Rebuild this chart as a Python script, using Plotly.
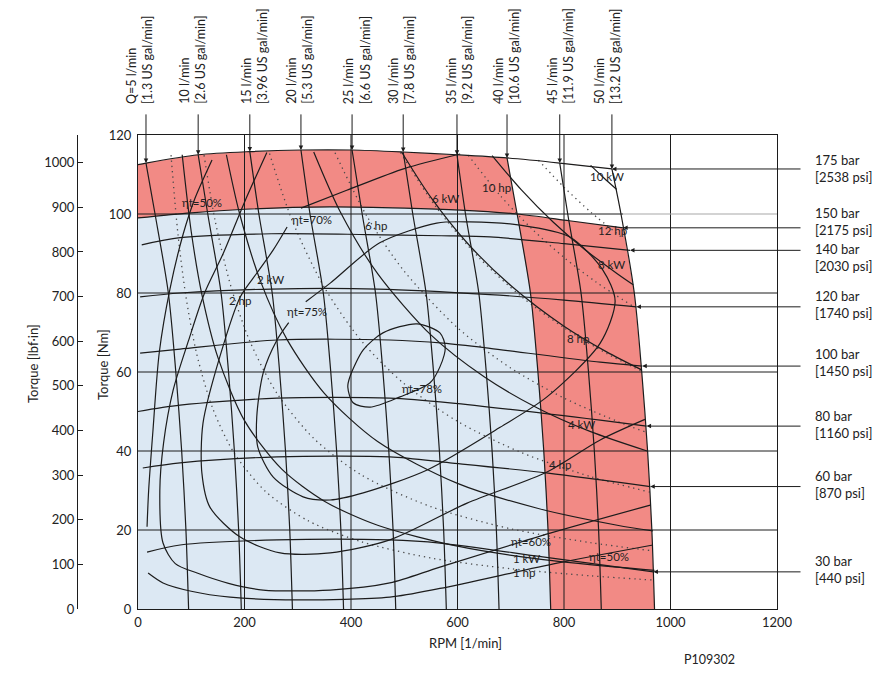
import plotly.graph_objects as go

# ------------------------------------------------------------------
# DATA  (speed in RPM [1/min], torque in Nm)
# ------------------------------------------------------------------
RPM_TICKS = [0, 200, 400, 600, 800, 1000, 1200]
NM_TICKS = [0, 20, 40, 60, 80, 100, 120]
LBF_TICKS = [0, 100, 200, 300, 400, 500, 600, 700, 800, 900, 1000]
NM_TO_LBFIN = 8.8507

# flow lines: speed at the torque levels below, plus the top end point
FLOW_TEXT = ["Q=5 l/min<br>[1.3 US gal/min]", "10 l/min<br>[2.6 US gal/min]",
             "15 l/min<br>[3.96 US gal/min]", "20 l/min<br>[5.3 US gal/min]",
             "25 l/min<br>[6.6 US gal/min]", "30 l/min<br>[7.8 US gal/min]",
             "35 l/min<br>[9.2 US gal/min]", "40 l/min<br>[10.6 US gal/min]",
             "45 l/min<br>[11.9 US gal/min]", "50 l/min<br>[13.2 US gal/min]"]
FLOW_TORQUE = [0, 20, 40, 60, 80, 100]
FLOW_RPM = [[95, 90, 82, 71, 57, 32],
            [194, 189, 181, 170, 156, 131],
            [290, 285, 277, 266, 252, 227],
            [386, 381, 373, 362, 348, 323],
            [484, 479, 471, 460, 446, 421],
            [579, 574, 566, 555, 541, 516],
            [678, 673, 665, 654, 640, 615],
            [775, 770, 762, 751, 737, 712],
            [870, 865, 857, 846, 832, 807],
            [970, 965, 957, 946, 932, 907]]
FLOW_TOP_RPM = [15, 113, 210, 306, 402, 498, 599, 693, 792, 890]
FLOW_TOP_NM = [112.9, 115.0, 115.8, 116.2, 116.2, 115.7, 115.0, 114.2, 112.9, 111.4]
FLOW_LABEL_RPM = [2, 101, 218, 302, 410, 494, 603, 691, 792, 881]

# pressure lines
PRESS_TEXT = ["175 bar<br>[2538 psi]", "150 bar<br>[2175 psi]", "140 bar<br>[2030 psi]",
              "120 bar<br>[1740 psi]", "100 bar<br>[1450 psi]", "80 bar<br>[1160 psi]",
              "60 bar<br>[870 psi]", "30 bar<br>[440 psi]"]
PRESS_RPM = [[0, 15, 113, 210, 306, 402, 498, 599, 693, 792, 890],
             [0, 100, 200, 360, 500, 605, 712, 810, 911],
             [7, 79, 250, 430, 570, 661, 800, 924],
             [4, 79, 250, 450, 661, 800, 936],
             [4, 79, 261, 473, 573, 661, 868, 947],
             [0, 79, 261, 473, 586, 868, 955],
             [9, 79, 261, 473, 586, 770, 962],
             [17, 79, 261, 473, 567, 760, 968]]
PRESS_NM = [[112.5, 112.9, 115.0, 115.8, 116.2, 116.2, 115.7, 115.0, 114.2, 112.9, 111.4],
            [99.0, 100.3, 101.2, 101.8, 101.5, 101.0, 100.0, 98.3, 96.5],
            [92.2, 94.0, 95.0, 94.8, 94.5, 94.2, 92.5, 90.8],
            [79.0, 80.0, 81.0, 81.0, 79.6, 78.2, 76.5],
            [64.8, 65.8, 68.1, 68.1, 67.3, 66.0, 62.5, 61.5],
            [50.0, 51.6, 53.4, 53.4, 52.2, 47.8, 46.3],
            [35.7, 37.0, 38.5, 38.5, 37.0, 34.4, 31.0],
            [14.4, 16.2, 17.5, 17.5, 16.7, 13.2, 9.4]]
PRESS_LABEL_NM = [111.6, 98.2, 88.9, 77.1, 62.3, 46.7, 31.4, 9.9]

# power lines (kW solid, hp dotted)
KW_RPM = [[83, 100, 120, 150, 200, 270, 350, 450, 600, 750, 900, 970],
          [166, 190, 230, 280, 350, 450, 600, 750, 900, 967],
          [330, 380, 450, 550, 650, 750, 850, 956],
          [495, 550, 620, 700, 800, 880, 945],
          [665, 720, 780, 840, 900, 930],
          [850, 875, 899]]
KW_NM = [[115, 95.5, 79.6, 63.7, 47.7, 35.4, 27.3, 21.2, 15.9, 12.7, 10.6, 9.8],
         [115, 100.5, 83.0, 68.2, 54.6, 42.4, 31.8, 25.5, 21.2, 19.8],
         [115.7, 100.5, 84.9, 69.4, 58.8, 50.9, 44.9, 40.0],
         [115.7, 104.2, 92.4, 81.9, 71.6, 65.1, 60.6],
         [114.8, 106.1, 97.9, 90.9, 84.9, 82.1],
         [112.3, 109.1, 106.2]]
HP_RPM = [[62, 75, 90, 110, 140, 180, 240, 320, 420, 550, 700, 850, 970],
          [124, 145, 175, 210, 260, 330, 420, 550, 700, 850, 968],
          [247, 290, 350, 420, 500, 600, 720, 850, 961],
          [370, 430, 500, 600, 700, 800, 900, 953],
          [493, 560, 640, 720, 800, 880, 945],
          [620, 680, 740, 800, 860, 930],
          [752, 800, 850, 912]]
HP_NM = [[114.9, 94.9, 79.1, 64.7, 50.9, 39.6, 29.7, 22.3, 17.0, 12.9, 10.2, 8.4, 7.3],
         [114.9, 98.2, 81.4, 67.8, 54.8, 43.2, 33.9, 25.9, 20.3, 16.8, 14.7],
         [115.3, 98.2, 81.4, 67.8, 57.0, 47.5, 39.6, 33.5, 29.6],
         [115.5, 99.4, 85.5, 71.2, 61.0, 53.4, 47.5, 44.8],
         [115.6, 101.7, 89.0, 79.1, 71.2, 64.7, 60.3],
         [114.9, 104.7, 96.2, 89.0, 82.8, 76.6],
         [113.6, 106.8, 100.5, 93.7]]

# total efficiency contours
EFF_RPM = [[394, 398, 423, 460, 524, 567, 577, 567, 548, 492, 436, 404, 394],
           [315, 361, 454, 561, 623, 717, 811, 873, 896, 868, 768, 680, 543, 423, 361,
            310, 254, 225, 223, 235, 261, 283],
           [605, 500, 392, 306],
           [280, 254, 223, 192, 154, 122, 120, 135, 192, 267, 361, 473, 618, 768, 868, 952],
           [242, 200, 160, 125, 95, 66, 48, 41, 47, 70, 111, 170, 235, 361, 473, 567, 774, 962],
           [139, 107, 85, 60, 40, 28, 20, 17],
           [19, 47, 100, 173, 299, 473, 567, 787, 967]]
EFF_NM = [[56.2, 58.8, 65.6, 69.9, 72.2, 69.9, 66.3, 61.3, 57.2, 53.7, 51.1, 52.2, 56.2],
          [77.8, 82.5, 92.7, 97.7, 98.0, 97.2, 94.2, 85.8, 78.0, 67.3, 53.7, 46.0, 35.2, 29.4,
           27.6, 28.4, 33.4, 41.0, 48.6, 59.7, 68.1, 72.5],
          [115.2, 111.5, 106.0, 101.5],
          [96.7, 90.9, 85.0, 79.0, 64.0, 47.0, 34.4, 25.8, 18.2, 14.2, 14.2, 17.5, 26.8, 34.7, 42.8, 48.0],
          [115.6, 103.0, 90.0, 80.0, 68.0, 55.4, 42.0, 30.0, 16.7, 11.5, 9.1, 6.5, 4.8, 4.8, 6.6,
           10.6, 19.2, 26.3],
          [113.7, 104.0, 95.0, 81.0, 65.0, 45.0, 30.0, 20.8],
          [9.1, 6.6, 4.5, 3.0, 2.3, 3.0, 5.2, 11.6, 16.2]]

# in-chart labels (text, rpm, Nm)
CURVE_LABELS = [("ηt=50%", 120, 103.0), ("ηt=70%", 327, 98.5), ("6 hp", 447, 97.2),
                ("6 kW", 578, 104.0), ("2 kW", 248, 83.3), ("2 hp", 191, 78.2),
                ("ηt=75%", 317, 75.2), ("ηt=78%", 533, 55.7), ("10 hp", 674, 106.8),
                ("10 kW", 880, 109.6), ("12 hp", 892, 95.7), ("8 kW", 890, 87.3),
                ("8 hp", 826, 68.4), ("4 kW", 832, 46.6), ("4 hp", 793, 36.5),
                ("ηt=60%", 738, 17.1), ("1 kW", 729, 12.8), ("1 hp", 724, 9.2),
                ("ηt=50%", 885, 13.4)]

# ------------------------------------------------------------------
W, H = 879, 679
L, R, T, B = 138, 777, 135, 609
XD = [L / W, R / W]
YD = [1 - B / H, 1 - T / H]
INK = "#1c1c1c"
RED = "#f28a85"
BLUE = "#dce8f3"
FONT = "Lato, 'Open Sans', sans-serif"
XMAX, YMAX = RPM_TICKS[-1], NM_TICKS[-1]


def xpaper(rpm):
    return XD[0] + rpm / XMAX * (XD[1] - XD[0])


def ypaper(nm):
    return YD[0] + nm / YMAX * (YD[1] - YD[0])


fig = go.Figure()


def line(x, y, width=1.2, dash=None, color=INK, spline=True):
    fig.add_trace(go.Scatter(
        x=x, y=y, mode="lines", hoverinfo="skip", showlegend=False,
        line=dict(color=color, width=width, dash=dash,
                  shape="spline" if spline else "linear", smoothing=0.8)))


def fill(x, y, color):
    fig.add_trace(go.Scatter(
        x=x, y=y, mode="lines", fill="toself", fillcolor=color, hoverinfo="skip",
        showlegend=False, line=dict(width=0, color=color)))


q_x = [r + [FLOW_TOP_RPM[i]] for i, r in enumerate(FLOW_RPM)]
q_y = [FLOW_TORQUE + [FLOW_TOP_NM[i]] for i in range(len(FLOW_RPM))]
q40x, q40y = q_x[7], q_y[7]
q50x, q50y = q_x[9], q_y[9]
p175x, p175y = PRESS_RPM[0], PRESS_NM[0]
p150x, p150y = PRESS_RPM[1], PRESS_NM[1]
corner_rpm = q40x[5]

# red envelope
fill(p175x + q50x[::-1] + [0], p175y + q50y[::-1] + [0], RED)
# white notch above the 150 bar line between 40 and 50 l/min
wx = [q40x[6], q40x[5]] + [x for x in p150x if x > corner_rpm] \
    + [x for x, y in zip(q50x, q50y) if y > p150y[-1]] \
    + [x for x in p175x[::-1] if q40x[6] < x < q50x[-1]]
wy = [q40y[6], q40y[5]] + [y for x, y in zip(p150x, p150y) if x > corner_rpm] \
    + [y for y in q50y if y > p150y[-1]] \
    + [y for x, y in zip(p175x[::-1], p175y[::-1]) if q40x[6] < x < q50x[-1]]
fill(wx, wy, "white")
# blue continuous-duty region
bx = q40x[:6] + [x for x in p150x[::-1] if x < corner_rpm] + [0]
by = q40y[:6] + [y for x, y in zip(p150x[::-1], p150y[::-1]) if x < corner_rpm] + [0]
fill(bx, by, BLUE)

# grid lines (drawn over the fills)
for r in RPM_TICKS[1:-1]:
    line([r, r], [NM_TICKS[0], NM_TICKS[-1]], width=1, spline=False)
for t in NM_TICKS[1:-1]:
    if t == 100:
        line([0, p150x[-1]], [t, t], width=1, spline=False)
        line([p150x[-1], XMAX], [t, t], width=1.2, color="#a8a8a8", spline=False)
    else:
        line([0, XMAX], [t, t], width=1, spline=False)

# curves
for x, y in zip(HP_RPM, HP_NM):
    line(x, y, width=1.3, dash="1.3px,4px", color="#4a4a4a")
for x, y in zip(KW_RPM, KW_NM):
    line(x, y, width=1.2)
for x, y in zip(EFF_RPM, EFF_NM):
    line(x, y, width=1.2)
for x, y in zip(q_x, q_y):
    line(x, y, width=1.2)
for x, y in zip(PRESS_RPM, PRESS_NM):
    line(x, y, width=1.2)

# secondary (lbf·in) axis carrier
fig.add_trace(go.Scatter(x=[0], y=[0], yaxis="y2", mode="markers",
                         marker=dict(opacity=0), hoverinfo="skip", showlegend=False))

ann = []
tf = dict(family=FONT, size=11.5, color="#222")
for txt, xr, yn in CURVE_LABELS:
    ann.append(dict(x=xr, y=yn, xref="x", yref="y", text=txt, showarrow=False,
                    font=tf, xanchor="center", yanchor="middle"))

# flow arrows + labels
for i, txt in enumerate(FLOW_TEXT):
    ann.append(dict(x=FLOW_TOP_RPM[i], y=FLOW_TOP_NM[i], ax=FLOW_TOP_RPM[i], ay=125.6,
                    xref="x", yref="y", axref="x", ayref="y", text="", showarrow=True,
                    arrowhead=2, arrowsize=0.9, arrowwidth=1, arrowcolor=INK, standoff=0))
    ann.append(dict(x=xpaper(FLOW_LABEL_RPM[i]), y=1 - 106 / H, xref="paper", yref="paper",
                    text=txt, textangle=-90, showarrow=False, xanchor="center",
                    yanchor="bottom", align="left",
                    font=dict(family=FONT, size=12.5, color="#222")))

# pressure arrows + labels
for i, txt in enumerate(PRESS_TEXT):
    xe, ye = PRESS_RPM[i][-1], PRESS_NM[i][-1]
    ann.append(dict(x=xe, y=ye, ax=1247, ay=ye, xref="x", yref="y", axref="x", ayref="y",
                    text="", showarrow=True, arrowhead=2, arrowsize=0.9, arrowwidth=1,
                    arrowcolor=INK, standoff=0))
    ann.append(dict(x=813 / W, y=ypaper(PRESS_LABEL_NM[i]), xref="paper", yref="paper",
                    text=txt, showarrow=False, xanchor="left", yanchor="middle",
                    align="left", font=dict(family=FONT, size=13, color="#222")))

# axis titles and figure code
tfont = dict(family=FONT, size=13, color="#222")
ann.append(dict(x=33 / W, y=1 - 364 / H, xref="paper", yref="paper", text="Torque [lbf·in]",
                textangle=-90, showarrow=False, xanchor="center", yanchor="middle", font=tfont))
ann.append(dict(x=103 / W, y=1 - 365 / H, xref="paper", yref="paper", text="Torque [Nm]",
                textangle=-90, showarrow=False, xanchor="center", yanchor="middle", font=tfont))
ann.append(dict(x=465 / W, y=1 - 643 / H, xref="paper", yref="paper", text="RPM [1/min]",
                showarrow=False, xanchor="center", yanchor="middle", font=tfont))
ann.append(dict(x=709 / W, y=1 - 659 / H, xref="paper", yref="paper", text="P109302",
                showarrow=False, xanchor="center", yanchor="middle",
                font=dict(family=FONT, size=12.5, color="#222")))

axfont = dict(family=FONT, size=13, color="#222")
fig.update_layout(
    width=W, height=H, autosize=False,
    margin=dict(l=0, r=0, t=0, b=0, pad=0, autoexpand=False),
    paper_bgcolor="white", plot_bgcolor="white",
    showlegend=False, hovermode=False,
    xaxis=dict(domain=XD, range=[RPM_TICKS[0], XMAX],
               tickvals=RPM_TICKS, showline=True, mirror=True, linecolor=INK, linewidth=1,
               showgrid=False, zeroline=False, ticks="outside", ticklen=1,
               tickcolor="rgba(0,0,0,0)", tickfont=axfont, automargin=False),
    yaxis=dict(domain=YD, range=[NM_TICKS[0], YMAX],
               tickvals=NM_TICKS, showline=True, mirror=True, linecolor=INK, linewidth=1,
               showgrid=False, zeroline=False, ticks="outside", ticklen=3,
               tickcolor="rgba(0,0,0,0)", tickfont=axfont, automargin=False),
    yaxis2=dict(overlaying="y", anchor="free", position=77 / W, side="left",
                range=[0, YMAX * NM_TO_LBFIN], tickvals=LBF_TICKS,
                showline=True, linecolor=INK, linewidth=1, ticks="inside", ticklen=5,
                tickcolor=INK, showgrid=False, zeroline=False, tickfont=axfont,
                automargin=False),
    annotations=ann,
)

fig.write_html("out.html")
